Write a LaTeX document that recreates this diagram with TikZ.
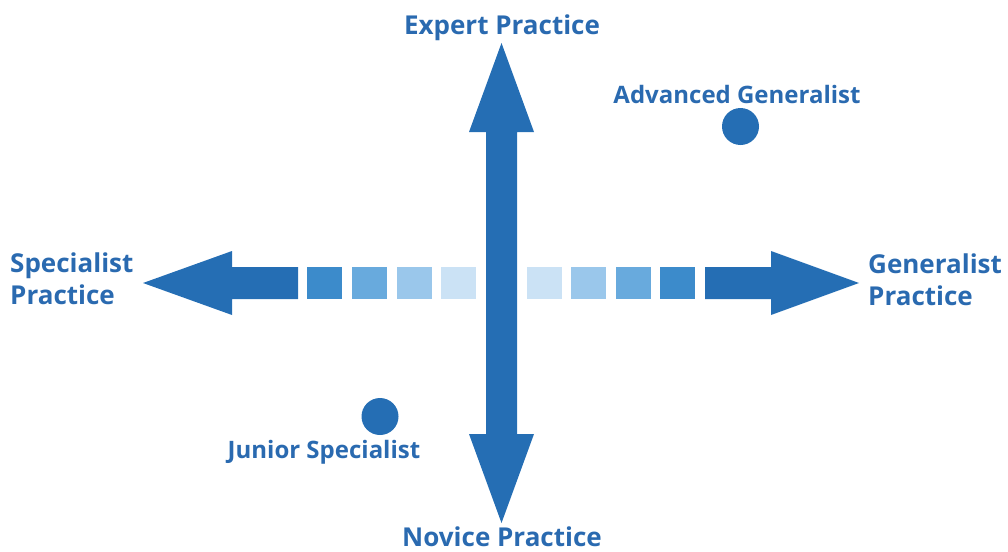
\documentclass[tikz,border=0pt]{standalone}
\usepackage{fontspec}
\setmainfont{Open Sans}
\definecolor{axisblue}{HTML}{256EB4}
\definecolor{labelblue}{HTML}{2A6AB0}
\definecolor{stepA}{HTML}{3C8BCB}
\definecolor{stepB}{HTML}{68AADD}
\definecolor{stepC}{HTML}{9AC7EB}
\definecolor{stepD}{HTML}{CBE2F5}
\begin{document}
\begin{tikzpicture}[x=1pt,y=-1pt,
  lbl/.style={text=labelblue,inner sep=0pt,font={\fontsize{24}{32}\selectfont\bfseries}},
  axislbl/.style={lbl,font={\fontsize{26}{32}\selectfont\bfseries}},
  stepbox/.style={inner sep=0pt,minimum width=35pt,minimum height=32pt},
  dot/.style={circle,fill=axisblue,inner sep=0pt,minimum size=37pt}]
\useasboundingbox (0,0) rectangle (1008,551);

% vertical double arrow: expert (up) to novice (down)
\fill[axisblue] (486,132) -- (469,132) -- (501.5,43) -- (534,132) -- (517,132)
  -- (517,434) -- (534,434) -- (501.5,523) -- (469,434) -- (486,434) -- cycle;

% left arrow towards specialist practice
\fill[axisblue] (298,267) -- (232,267) -- (232,251) -- (143,283) -- (232,315)
  -- (232,299) -- (298,299) -- cycle;
% right arrow towards generalist practice
\fill[axisblue] (705,267) -- (771,267) -- (771,251) -- (859,283) -- (771,315)
  -- (771,299) -- (705,299) -- cycle;

% fading steps on both sides of the centre
\node[stepbox,fill=stepA] (l1) at (324.5,283) {};
\node[stepbox,fill=stepB] (l2) at (369.5,283) {};
\node[stepbox,fill=stepC] (l3) at (414.5,283) {};
\node[stepbox,fill=stepD] (l4) at (458.5,283) {};
\node[stepbox,fill=stepD] (r4) at (544.5,283) {};
\node[stepbox,fill=stepC] (r3) at (588.5,283) {};
\node[stepbox,fill=stepB] (r2) at (633.5,283) {};
\node[stepbox,fill=stepA] (r1) at (677.5,283) {};

% axis labels
\node[axislbl,anchor=base] (expert) at (502,35) {Expert Practice};
\node[axislbl,anchor=base] (novice) at (502,546) {Novice Practice};
\node[axislbl,anchor=base west,align=left] (spec) at (10,304) {Specialist\\Practice};
\node[axislbl,anchor=base west,align=left] (gen) at (868,305) {Generalist\\Practice};

% positions
\node[dot] (adv) at (740.5,126.5) {};
\node[lbl,anchor=base] (advlbl) at (737,103.5) {Advanced Generalist};
\node[dot] (jun) at (380,416.5) {};
\node[lbl,anchor=base] (junlbl) at (324,458) {Junior Specialist};
\end{tikzpicture}
\end{document}
